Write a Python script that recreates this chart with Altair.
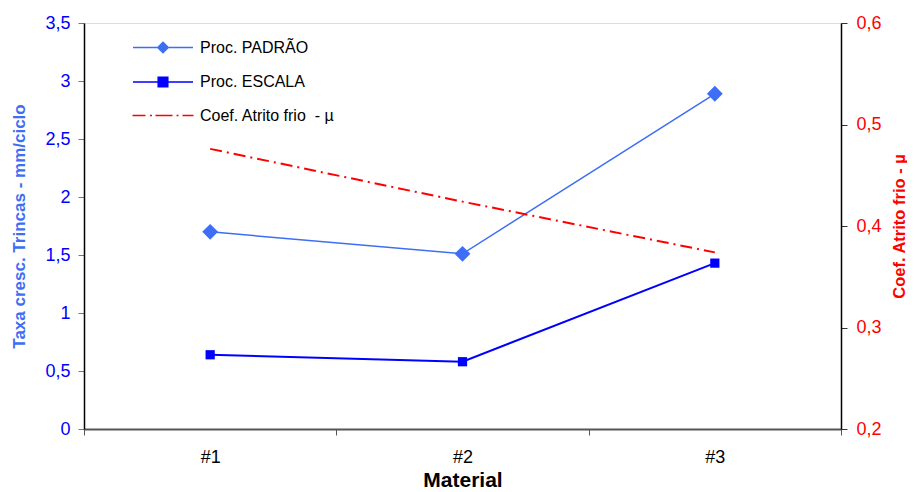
import altair as alt
import pandas as pd

materials = ["#1", "#2", "#3"]
padrao = [1.70, 1.51, 2.89]
escala = [0.64, 0.58, 1.43]
coef = [0.476, 0.424, 0.374]

series_names = ["Proc. PADRÃO", "Proc. ESCALA", "Coef. Atrito frio \u00a0- µ"]
series_colors = ["#3D6EF5", "#0000FF", "#FF0000"]
left_ticks = [0, 0.5, 1, 1.5, 2, 2.5, 3, 3.5]
right_ticks = [0.2, 0.3, 0.4, 0.5, 0.6]

legend_paths = [
    "M-3.75,0H3.75M0,-0.65L0.65,0L0,0.65L-0.65,0Z",
    "M-3.75,0H3.75M-0.6,-0.6H0.6V0.6H-0.6Z",
    "M-3.81,0H-2.19M-1.63,0H-1.38M-0.94,0H1.19M1.69,0H1.94M2.44,0H3.81",
]

df_p = pd.DataFrame({"material": materials, "value": padrao, "serie": series_names[0]})
df_e = pd.DataFrame({"material": materials, "value": escala, "serie": series_names[1]})
df_c = pd.DataFrame({"material": materials, "value": coef, "serie": series_names[2]})
df_all = pd.concat([df_p, df_e, df_c], ignore_index=True)

FONT = "Liberation Sans"

x_enc = alt.X(
    "material:N",
    sort=materials,
    bandPosition=0.5,
    scale=alt.Scale(type="band", paddingInner=0, paddingOuter=0),
    axis=alt.Axis(
        title="Material",
        labelAngle=0,
        tickBand="extent",
        domainColor="#555555",
        domainWidth=2,
        tickColor="#555555",
        tickSize=6,
        labelFont=FONT,
        labelFontSize=18,
        labelColor="#000000",
        labelPadding=13,
        titleFont=FONT,
        titleFontSize=21,
        titleFontWeight="bold",
        titleColor="#000000",
        titlePadding=3,
    ),
)

y_left = alt.Y(
    "value:Q",
    scale=alt.Scale(domain=[0, 3.5]),
    axis=alt.Axis(
        title="Taxa cresc. Trincas - mm/ciclo",
        values=left_ticks,
        labelExpr="replace(toString(datum.value), '.', ',')",
        grid=False,
        domainColor="#000000",
        domainWidth=1.5,
        tickColor="#777777",
        tickSize=6,
        labelFont=FONT,
        labelFontSize=18,
        labelColor="#0000FF",
        labelPadding=8,
        titleFont=FONT,
        titleFontSize=17,
        titleFontWeight="bold",
        titleColor="#3D6EF5",
        titlePadding=16,
    ),
)

y_right = alt.Y(
    "value:Q",
    scale=alt.Scale(domain=[0.2, 0.6]),
    axis=alt.Axis(
        orient="right",
        title="Coef. Atrito frio - µ",
        values=right_ticks,
        labelExpr="replace(toString(datum.value), '.', ',')",
        grid=False,
        domainColor="#000000",
        domainWidth=1.5,
        tickColor="#333333",
        tickSize=6,
        labelFont=FONT,
        labelFontSize=18,
        labelColor="#FF0000",
        labelPadding=9,
        titleFont=FONT,
        titleFontSize=16.5,
        titleFontWeight="bold",
        titleColor="#FF0000",
        titleAngle=270,
        titlePadding=26,
    ),
)

legend_def = alt.Legend(
    title=None,
    orient="none",
    legendX=70,
    legendY=15.5,
    padding=0,
    symbolSize=256,
    symbolStrokeWidth=1.5,
    symbolOpacity=1,
    labelFont=FONT,
    labelFontSize=16,
    labelColor="#000000",
    labelOffset=28,
    rowPadding=16.5,
)

line_p = alt.Chart(df_p).mark_line(color=series_colors[0], strokeWidth=1.5).encode(x=x_enc, y=y_left)
pts_p = alt.Chart(df_p).mark_point(shape="diamond", filled=True, size=250, opacity=1, color=series_colors[0]).encode(x=x_enc, y=y_left)
line_e = alt.Chart(df_e).mark_line(color=series_colors[1], strokeWidth=2).encode(x=x_enc, y=y_left)
pts_e = alt.Chart(df_e).mark_point(shape="square", filled=True, size=85, opacity=1, color=series_colors[1]).encode(x=x_enc, y=y_left)

legend_layer = alt.Chart(df_all).mark_point(filled=True, opacity=0, size=1).encode(
    x=x_enc,
    y=y_left,
    color=alt.Color("serie:N", scale=alt.Scale(domain=series_names, range=series_colors), legend=legend_def),
    stroke=alt.Stroke("serie:N", scale=alt.Scale(domain=series_names, range=series_colors), legend=legend_def),
    shape=alt.Shape("serie:N", scale=alt.Scale(domain=series_names, range=legend_paths), legend=legend_def),
)

left = alt.layer(line_p, line_e, pts_p, pts_e, legend_layer)

right = alt.Chart(df_c).mark_line(color=series_colors[2], strokeWidth=2, strokeDash=[12, 5, 2, 5]).encode(
    x=x_enc, y=y_right
)

chart = (
    alt.layer(left, right)
    .resolve_scale(y="independent")
    .properties(
        width=757,
        height=406,
        autosize=alt.AutoSizeParams(type="none"),
        padding={"left": 76, "top": 15, "right": 66, "bottom": 62},
    )
    .configure_view(stroke="#888888", strokeWidth=1.5)
    .configure(background="#FFFFFF")
)

chart.save("out.html", embed_options={"renderer": "svg", "actions": False})
